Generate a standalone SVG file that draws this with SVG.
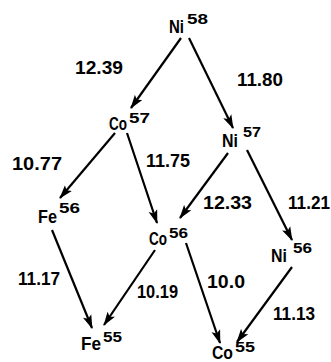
<svg xmlns="http://www.w3.org/2000/svg" width="331" height="362" viewBox="0 0 331 362">
<style>
.t{font-family:"Liberation Sans",Arial,sans-serif;font-size:17.5px;font-weight:bold;fill:#000}
.s{font-family:"Liberation Sans",Arial,sans-serif;font-size:15px;font-weight:bold;fill:#000}
.n{font-family:"Liberation Sans",Arial,sans-serif;font-size:18px;font-weight:bold;fill:#000}
.e line{stroke:#000;stroke-width:2.2;marker-end:url(#ah)}
</style>
<defs>
<marker id="ah" markerUnits="userSpaceOnUse" markerWidth="14" markerHeight="10" refX="13" refY="5" orient="auto" viewBox="0 0 14 10">
<path d="M0,0.5 L14,5 L0,9.5 L3,5 Z" fill="#000"/>
</marker>
</defs>
<rect width="331" height="362" fill="#fff"/>
<g id="connectors" class="e">
<line x1="181" y1="38" x2="131" y2="108"/>
<line x1="189" y1="38" x2="233" y2="128"/>
<line x1="115" y1="133" x2="60" y2="198"/>
<line x1="127" y1="133" x2="157" y2="223"/>
<line x1="228" y1="153" x2="180" y2="218"/>
<line x1="247" y1="150" x2="292" y2="240"/>
<line x1="52" y1="230" x2="92" y2="328"/>
<line x1="155" y1="250" x2="104" y2="325"/>
<line x1="186" y1="243" x2="220" y2="343"/>
<line x1="292" y1="267" x2="237" y2="342"/>
</g>
<g id="labels">
<text class="n" x="75" y="74" textLength="48" lengthAdjust="spacingAndGlyphs">12.39</text>
<text class="n" x="237" y="86" textLength="46" lengthAdjust="spacingAndGlyphs">11.80</text>
<text class="n" x="12" y="170" textLength="50" lengthAdjust="spacingAndGlyphs">10.77</text>
<text class="n" x="146" y="167" textLength="44" lengthAdjust="spacingAndGlyphs">11.75</text>
<text class="n" x="203" y="209" textLength="49" lengthAdjust="spacingAndGlyphs">12.33</text>
<text class="n" x="288" y="209" textLength="42" lengthAdjust="spacingAndGlyphs">11.21</text>
<text class="n" x="18" y="285" textLength="42" lengthAdjust="spacingAndGlyphs">11.17</text>
<text class="n" x="137" y="298" textLength="41" lengthAdjust="spacingAndGlyphs">10.19</text>
<text class="n" x="207" y="288" textLength="38" lengthAdjust="spacingAndGlyphs">10.0</text>
<text class="n" x="273" y="320" textLength="42" lengthAdjust="spacingAndGlyphs">11.13</text>
</g>
<g id="Ni58"><text class="t" transform="translate(169,33) scale(0.86,1)">Ni</text><text class="s" x="187" y="24" textLength="21" lengthAdjust="spacingAndGlyphs">58</text></g>
<g id="Co57"><text class="t" transform="translate(109,130) scale(0.77,1)">Co</text><text class="s" x="129" y="123" textLength="21" lengthAdjust="spacingAndGlyphs">57</text></g>
<g id="Ni57"><text class="t" transform="translate(222,147) scale(0.91,1)">Ni</text><text class="s" x="243" y="137" textLength="18" lengthAdjust="spacingAndGlyphs">57</text></g>
<g id="Fe56"><text class="t" transform="translate(38,223) scale(0.93,1)">Fe</text><text class="s" x="59" y="213" textLength="21" lengthAdjust="spacingAndGlyphs">56</text></g>
<g id="Co56"><text class="t" transform="translate(149,245) scale(0.77,1)">Co</text><text class="s" x="169" y="238" textLength="19" lengthAdjust="spacingAndGlyphs">56</text></g>
<g id="Ni56"><text class="t" transform="translate(271,262) scale(0.91,1)">Ni</text><text class="s" x="293" y="253" textLength="19" lengthAdjust="spacingAndGlyphs">56</text></g>
<g id="Fe55"><text class="t" transform="translate(81,350) scale(0.98,1)">Fe</text><text class="s" x="103" y="342" textLength="19" lengthAdjust="spacingAndGlyphs">55</text></g>
<g id="Co55"><text class="t" transform="translate(212,359) scale(0.9,1)">Co</text><text class="s" x="235" y="352" textLength="20" lengthAdjust="spacingAndGlyphs">55</text></g>
</svg>
